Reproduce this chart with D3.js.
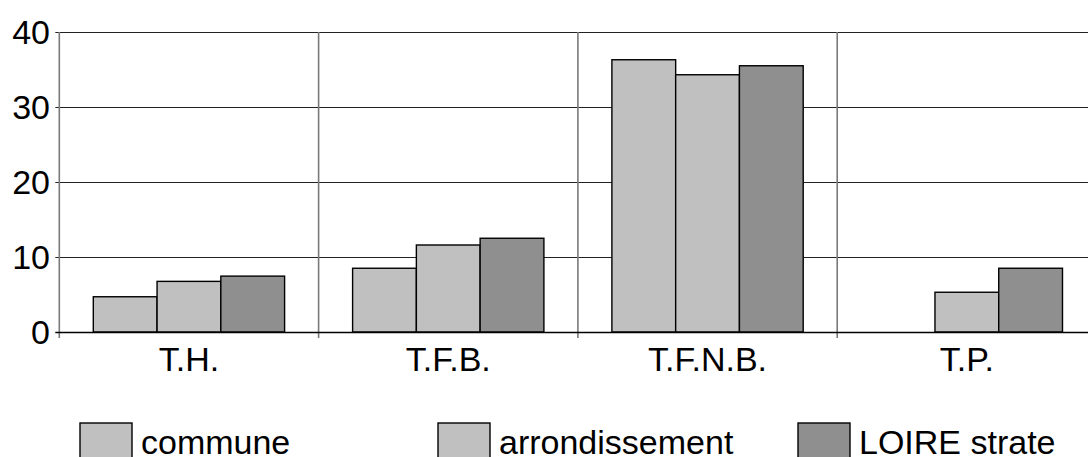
<!DOCTYPE html>
<html>
<head>
<meta charset="utf-8">
<script src="https://cdn.jsdelivr.net/npm/d3@7"></script>
<style>
  body { margin: 0; background: #fff; }
  svg { display: block; font-family: "Liberation Sans", Arial, sans-serif; }
</style>
</head>
<body>
<div id="vis"></div>
<script>
// data
const categories = ['T.H.', 'T.F.B.', 'T.F.N.B.', 'T.P.']
const series = ['commune', 'arrondissement', 'LOIRE strate']
const commune = [4.7, 8.5, 36.3, 0]
const arrondissement = [6.75, 11.6, 34.3, 5.3]
const loire = [7.45, 12.5, 35.5, 8.5]
const yTicks = [0, 10, 20, 30, 40]

const values = [commune, arrondissement, loire]
const colors = ['#c0c0c0', '#c0c0c0', '#8f8f8f']

const W = 1088, H = 457
const plotLeft = 59.3, plotRight = 1096.5, plotTop = 32, plotBottom = 332

let svg = d3.select('#vis').append('svg')
  .attr('width', W)
  .attr('height', H)

// scales
let x0 = d3.scaleBand(categories, [plotLeft, plotRight])
let inner = 34
let x1 = d3.scaleBand(series, [inner, x0.bandwidth() - inner])
let y = d3.scaleLinear([0, 40], [plotBottom, plotTop])

// horizontal grid
svg.append('g')
  .selectAll('line')
  .data(yTicks.filter(d => d > 0))
  .enter()
  .append('line')
  .attr('x1', plotLeft - 4)
  .attr('x2', plotRight)
  .attr('y1', d => Math.round(y(d)) + 0.5)
  .attr('y2', d => Math.round(y(d)) + 0.5)
  .attr('stroke', '#222')
  .attr('stroke-width', 1.2)

// vertical grid / category separators
svg.append('g')
  .selectAll('line')
  .data(categories)
  .enter()
  .append('line')
  .attr('x1', d => x0(d))
  .attr('x2', d => x0(d))
  .attr('y1', plotTop)
  .attr('y2', plotBottom + 6)
  .attr('stroke', '#7a7a7a')
  .attr('stroke-width', 1.6)

// bars
let groups = svg.append('g')
  .selectAll('g')
  .data(series)
  .enter()
  .append('g')

groups.selectAll('rect')
  .data((s, si) => categories.map((c, ci) => ({ c: c, s: s, v: values[si][ci], i: si })))
  .enter()
  .append('rect')
  .attr('x', d => x0(d.c) + x1(d.s))
  .attr('y', d => y(d.v))
  .attr('width', x1.bandwidth())
  .attr('height', d => plotBottom - y(d.v))
  .attr('fill', d => colors[d.i])
  .attr('stroke', '#000')
  .attr('stroke-width', d => d.v > 0 ? 1.4 : 0)

// bottom axis line
svg.append('line')
  .attr('x1', plotLeft - 4)
  .attr('x2', W)
  .attr('y1', plotBottom + 0.5)
  .attr('y2', plotBottom + 0.5)
  .attr('stroke', '#000')
  .attr('stroke-width', 1.5)

// y labels
svg.append('g')
  .selectAll('text')
  .data(yTicks)
  .enter()
  .append('text')
  .attr('x', 50)
  .attr('y', d => y(d))
  .attr('dy', '0.36em')
  .attr('text-anchor', 'end')
  .attr('font-size', '34px')
  .attr('fill', '#000')
  .text(d => d)

// category labels
svg.append('g')
  .selectAll('text')
  .data(categories)
  .enter()
  .append('text')
  .attr('x', d => x0(d) + x0.bandwidth() / 2)
  .attr('y', 371)
  .attr('text-anchor', 'middle')
  .attr('font-size', '34px')
  .attr('fill', '#000')
  .text(d => d)

// legend
const legendX = [80, 438, 798]
let legend = svg.append('g')
  .selectAll('g')
  .data(series)
  .enter()
  .append('g')
  .attr('transform', (d, i) => `translate(${legendX[i]},423)`)

legend.append('rect')
  .attr('width', 52)
  .attr('height', 40)
  .attr('fill', (d, i) => colors[i])
  .attr('stroke', '#000')
  .attr('stroke-width', 1.4)

legend.append('text')
  .attr('x', 61)
  .attr('y', 31)
  .attr('font-size', '34px')
  .attr('fill', '#000')
  .text(d => d)
</script>
</body>
</html>
